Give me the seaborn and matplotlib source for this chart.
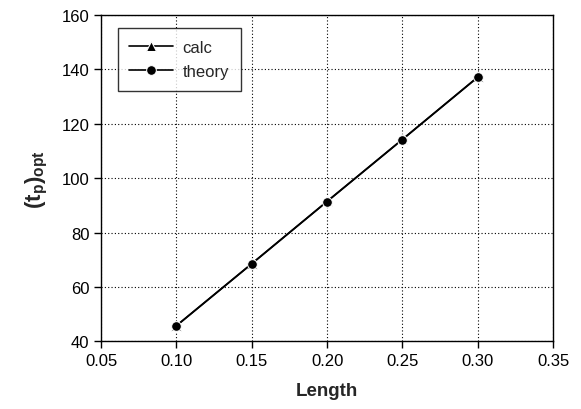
import matplotlib
matplotlib.use("Agg")
import matplotlib.pyplot as plt
import seaborn as sns
import pandas as pd

length = [0.10, 0.15, 0.20, 0.25, 0.30]
calc = [45.8, 68.6, 91.5, 114.3, 137.2]
theory = [45.7, 68.5, 91.4, 114.2, 137.1]
xticks = [0.05, 0.10, 0.15, 0.20, 0.25, 0.30, 0.35]
yticks = [40, 60, 80, 100, 120, 140, 160]

sns.set_theme(style="white")
plt.rcParams['font.family'] = ['Liberation Sans', 'DejaVu Sans']
plt.rcParams['mathtext.fontset'] = 'custom'
plt.rcParams['mathtext.rm'] = 'Liberation Sans'
plt.rcParams['mathtext.bf'] = 'Liberation Sans:bold'
plt.rcParams['mathtext.it'] = 'Liberation Sans:italic'

df = pd.DataFrame({"Length": length * 2,
                   "val": calc + theory,
                   "series": ["calc"] * 5 + ["theory"] * 5})

fig, ax = plt.subplots(figsize=(5.81, 4.10), dpi=100)
fig.subplots_adjust(left=0.174, right=0.952, top=0.961, bottom=0.165)

sns.lineplot(data=df, x="Length", y="val", hue="series", style="series",
             markers={"calc": "^", "theory": "o"}, dashes=False,
             palette={"calc": "black", "theory": "black"},
             markersize=7, linewidth=1.2, ax=ax)

ax.set_xlim(0.05, 0.35)
ax.set_ylim(40, 160)
ax.set_xticks(xticks)
ax.set_xticklabels([f"{t:.2f}" for t in xticks])
ax.set_yticks(yticks)
ax.grid(True, color="black", linestyle=(0, (1, 2)), linewidth=0.8)
for s in ax.spines.values():
    s.set_color("black")
    s.set_linewidth(1.0)
    s.set_visible(True)
ax.tick_params(axis="both", direction="out", length=5, width=1, color="black",
               labelsize=12, labelcolor="black", bottom=True, left=True)
ax.set_xlabel("Length", fontsize=13.5, fontweight="bold", labelpad=10)
ax.set_ylabel(r"$\mathbf{(t_p)_{opt}}$", fontsize=16, labelpad=8)

leg = ax.legend(loc="upper left", bbox_to_anchor=(0.018, 0.985), frameon=True,
                fancybox=False, edgecolor="black", fontsize=12,
                handlelength=2.6, handletextpad=0.6, borderpad=0.7,
                labelspacing=0.55)
leg.get_frame().set_linewidth(1.0)
leg.set_title(None)

fig.savefig("out.png", dpi=100)
